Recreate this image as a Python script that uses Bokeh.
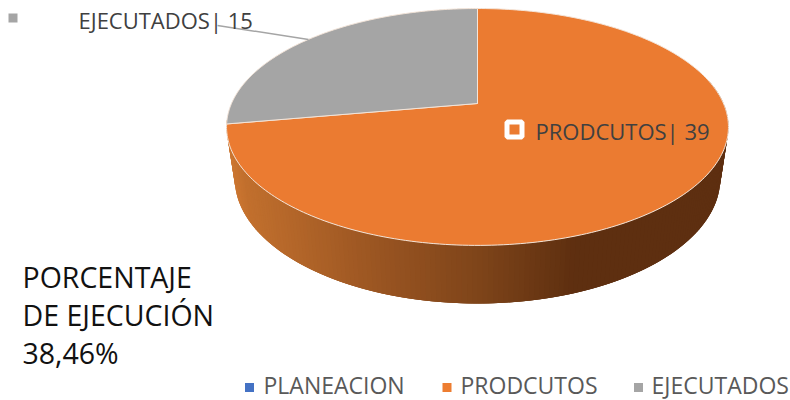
import numpy as np
from bokeh.plotting import figure
from bokeh.models import Range1d
from bokeh.core.properties import value
from bokeh.embed import file_html
from bokeh.resources import INLINE

categories = ["PLANEACION", "PRODCUTOS", "EJECUTADOS"]
values = [0, 39, 15]
colors = ["#4472C4", "#EB7B31", "#A5A5A5"]
legend_marker_colors = ["#4472C4", "#ED7D31", "#A5A5A5"]
note_lines = ["PORCENTAJE", "DE EJECUCIÓN", "38,46%"]
wall_stop_x = [230, 243, 377, 477, 577, 730]
wall_stop_rgb = [(203, 118, 49), (194, 112, 46), (154, 85, 34), (127, 69, 26), (94, 47, 16), (94, 47, 16)]

# Perspective projection of the unit disc onto the picture
CX, K = 477, 0.198
def top_xy(theta):
    u, v = np.sin(theta), np.cos(theta)
    return CX + 246 * u / (1 + K * v), (103 - 93.4 * v) / (1 + K * v)
def low_xy(theta):
    u, v = np.sin(theta), np.cos(theta)
    return CX + 238 * u / (1 + K * v), (153 - 90 * v) / (1 + K * v)

p = figure(width=790, height=400, output_backend="svg", toolbar_location=None,
           x_range=Range1d(0, 790), y_range=Range1d(400, 0), min_border=0,
           outline_line_color=None, background_fill_color="white")
p.axis.visible = False
p.grid.visible = False

# Side wall, as thin shaded strips along the front of the pie
edges = np.radians(np.linspace(78, 262, 185))
xs, ys, fills = [], [], []
for a, b in zip(edges[:-1], edges[1:]):
    b2 = min(b + np.radians(2), edges[-1])
    xa, ya = top_xy(a); xb, yb = top_xy(b2)
    xc, yc = low_xy(b2); xd, yd = low_xy(a)
    xs.append([xa, xb, xc, xd]); ys.append([ya, yb, yc, yd])
    xm = (top_xy(a)[0] + top_xy(b)[0]) / 2
    rgb = [int(np.interp(xm, wall_stop_x, [s[i] for s in wall_stop_rgb])) for i in range(3)]
    fills.append("#%02x%02x%02x" % tuple(rgb))
p.patches(xs, ys, fill_color=fills, line_color=None)

# Top surface slices
total = sum(values)
start = 0.0
for val, col in zip(values, colors):
    if val == 0:
        continue
    sweep = 2 * np.pi * val / total
    t = np.linspace(start, start + sweep, 240)
    x, y = top_xy(t)
    cy = 103
    p.patch(np.r_[CX, x], np.r_[cy, y], fill_color=col, line_color="#F3E4D8", line_width=1)
    start += sweep

# Data labels
p.line([217, 308], [25, 39], line_color="#A5A5A5", line_width=1.5)
p.scatter([12.5], [17.5], marker="square", size=9, fill_color=colors[2], line_color=None)
p.scatter([514], [129], marker="square", size=15, fill_color=colors[1], line_color="white", line_width=5)
label_font = dict(text_font=value("Open Sans"), text_color="#404040", text_baseline="middle")
p.text([78], [19.5], text=[f"{categories[2]}| {values[2]}"], text_font_size="22px", **label_font)
p.text([535], [130.5], text=[f"{categories[1]}| {values[1]}"], text_font_size="22px", **label_font)

# Note
p.text([22] * 3, [276, 314, 352], text=note_lines, text_font=value("Open Sans"),
       text_font_size="28.5px", text_color="#111111", text_baseline="middle")

# Legend
p.scatter([249, 446.5, 638], [387] * 3, marker="square", size=9,
          fill_color=legend_marker_colors, line_color=None)
p.text([263, 460, 651], [384] * 3, text=categories, text_font=value("Open Sans"),
       text_font_size="23px", text_color="#595959", text_baseline="middle")

open("out.html", "w").write(file_html(p, INLINE))
